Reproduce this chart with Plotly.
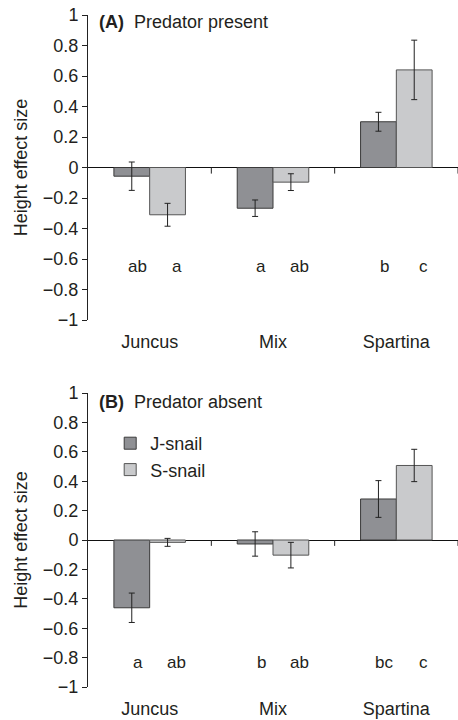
import plotly.graph_objects as go

categories = ["Juncus", "Mix", "Spartina"]
series_names = ["J-snail", "S-snail"]

# Panel A: predator present
a_j = [-0.057, -0.267, 0.30]
a_j_err = [0.093, 0.054, 0.062]
a_s = [-0.31, -0.096, 0.64]
a_s_err = [0.075, 0.055, 0.195]
a_j_letters = ["ab", "a", "b"]
a_s_letters = ["a", "ab", "c"]
a_letter_y = -0.65

# Panel B: predator absent
b_j = [-0.461, -0.027, 0.279]
b_j_err = [0.10, 0.083, 0.125]
b_s = [-0.016, -0.103, 0.507]
b_s_err = [0.027, 0.087, 0.11]
b_j_letters = ["a", "b", "bc"]
b_s_letters = ["ab", "ab", "c"]
b_letter_y = -0.83

FONT = "Liberation Sans, Arial, sans-serif"
DARK = "#8f9094"
LIGHT = "#c9cacc"
TXT = "#231f20"
FS = 18

xs = list(range(len(categories)))
fig = go.Figure()

def add_panel(fig, jv, je, sv, se, xa, ya, show):
    fig.add_trace(go.Bar(x=xs, y=jv, name=series_names[0], xaxis=xa, yaxis=ya,
                         marker=dict(color=DARK, line=dict(color="#3a3a3a", width=1)),
                         error_y=dict(type="data", array=je, color="#222", thickness=1, width=3),
                         showlegend=show, offsetgroup="J"))
    fig.add_trace(go.Bar(x=xs, y=sv, name=series_names[1], xaxis=xa, yaxis=ya,
                         marker=dict(color=LIGHT, line=dict(color="#555", width=1)),
                         error_y=dict(type="data", array=se, color="#222", thickness=1, width=3),
                         showlegend=show, offsetgroup="S"))

add_panel(fig, a_j, a_j_err, a_s, a_s_err, "x", "y", False)
add_panel(fig, b_j, b_j_err, b_s, b_s_err, "x2", "y2", True)

W, H = 458, 720
mt, mb = 15, 33
ph = H - mt - mb
domA = [1 - (320 - mt) / ph, 1.0]
domB = [0.0, 1 - (393 - mt) / ph]

xcommon = dict(range=[-0.5, 2.5], tickmode="array", tickvals=xs, ticktext=categories,
               showline=False, showgrid=False, zeroline=False, ticks="outside",
               ticklen=5, tickcolor="rgba(0,0,0,0)",
               tickfont=dict(family=FONT, size=FS, color=TXT), fixedrange=True)
ycommon = dict(range=[-1, 1], dtick=0.2, tick0=0, showline=True, linecolor="#222", linewidth=1,
               ticks="outside", ticklen=5, tickcolor="#222", showgrid=False,
               zeroline=True, zerolinecolor="#111", zerolinewidth=1,
               tickfont=dict(family=FONT, size=FS, color=TXT),
               title=dict(text="Height effect size", font=dict(family=FONT, size=FS, color=TXT), standoff=10))

fig.update_layout(
    width=W, height=H,
    margin=dict(l=88, r=0, t=mt, b=mb),
    plot_bgcolor="white", paper_bgcolor="white",
    barmode="group", bargap=0.42, bargroupgap=0,
    xaxis=dict(domain=[0, 1], anchor="y", **xcommon),
    yaxis=dict(domain=domA, anchor="x", **ycommon),
    xaxis2=dict(domain=[0, 1], anchor="y2", **xcommon),
    yaxis2=dict(domain=domB, anchor="x2", **ycommon),
    legend=dict(x=0.06, y=1 - (425 - mt) / ph, xanchor="left", yanchor="top",
                font=dict(family=FONT, size=FS, color=TXT), bgcolor="rgba(0,0,0,0)",
                tracegroupgap=0, itemwidth=30),
    font=dict(family=FONT, color=TXT),
    showlegend=True,
)

annotations = []
offset = 0.145
for xa, ya, jl, sl, ly in [("x", "y", a_j_letters, a_s_letters, a_letter_y),
                            ("x2", "y2", b_j_letters, b_s_letters, b_letter_y)]:
    for i in xs:
        annotations.append(dict(x=i - offset, y=ly, xref=xa, yref=ya, text=jl[i], showarrow=False,
                                xshift=6, font=dict(family=FONT, size=17, color=TXT)))
        annotations.append(dict(x=i + offset, y=ly, xref=xa, yref=ya, text=sl[i], showarrow=False,
                                xshift=9, font=dict(family=FONT, size=17, color=TXT)))

annotations.append(dict(x=0.024, y=0.978, xref="x domain", yref="y domain", xanchor="left", yanchor="middle",
                        text="<b>(A)</b>  Predator present", showarrow=False,
                        font=dict(family=FONT, size=FS, color=TXT)))
annotations.append(dict(x=0.024, y=0.968, xref="x2 domain", yref="y2 domain", xanchor="left", yanchor="middle",
                        text="<b>(B)</b>  Predator absent", showarrow=False,
                        font=dict(family=FONT, size=FS, color=TXT)))
fig.update_layout(annotations=annotations)

shapes = []
for xa, ya in [("x", "y"), ("x2", "y2")]:
    for b in [0.5, 1.5, 2.5]:
        shapes.append(dict(type="line", xref=xa, yref=ya, x0=b, x1=b, y0=0, y1=-0.04,
                           line=dict(color="#222", width=1)))
fig.update_layout(shapes=shapes)

fig.write_html("out.html")
